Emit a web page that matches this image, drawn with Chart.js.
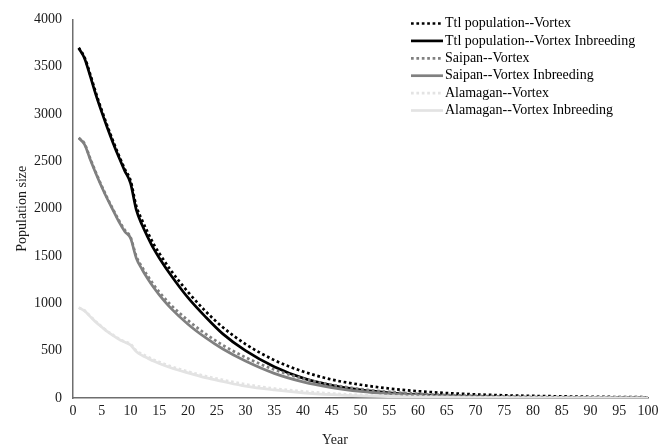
<!DOCTYPE html>
<html>
<head>
<meta charset="utf-8">
<script src="https://cdn.jsdelivr.net/npm/chart.js@4"></script>
<style>
  html, body { margin: 0; padding: 0; background: #fff; }
</style>
</head>
<body>
<canvas id="chart" width="670" height="447"></canvas>
<script>
// ===== Data =====

const years = [1, 2, 3, 4, 5, 6, 7, 8, 9, 10, 11, 12, 13, 14, 15, 17, 20, 23, 26, 30,
  35, 40, 45, 50, 55, 60, 65, 70, 75, 80, 85, 90, 95, 100];

const ttlVortex = [3700, 3600, 3420, 3220, 3040, 2870, 2710, 2560, 2420, 2300, 2030, 1880, 1750, 1630, 1530, 1350, 1120, 920, 750, 570,
  400, 280, 195, 140, 100, 72, 52, 38, 28, 22, 17, 13, 10, 8];
const ttlInbreeding = [3695, 3590, 3400, 3200, 3020, 2850, 2690, 2540, 2400, 2270, 1990, 1830, 1700, 1580, 1480, 1300, 1060, 860, 680, 500,
  330, 210, 135, 85, 55, 35, 22, 14, 9, 6, 4, 3, 2, 1];
const saipanVortex = [2750, 2690, 2530, 2380, 2240, 2110, 1990, 1875, 1775, 1700, 1500, 1385, 1290, 1200, 1120, 985, 820, 680, 560, 430,
  300, 205, 140, 95, 65, 45, 32, 23, 17, 12, 9, 7, 5, 4];
const saipanInbreeding = [2745, 2680, 2520, 2370, 2230, 2100, 1980, 1860, 1760, 1690, 1480, 1360, 1260, 1170, 1090, 950, 780, 640, 520, 390,
  260, 170, 110, 70, 45, 28, 18, 11, 7, 5, 3, 2, 1, 1];
const alamaganVortex = [955, 925, 865, 805, 755, 705, 665, 625, 595, 570, 500, 465, 435, 405, 380, 335, 280, 232, 192, 145,
  100, 70, 48, 33, 23, 16, 11, 8, 6, 4, 3, 2, 2, 1];
const alamaganInbreeding = [955, 920, 860, 800, 750, 700, 660, 620, 590, 560, 490, 450, 420, 390, 365, 320, 265, 215, 175, 125,
  85, 55, 35, 22, 14, 9, 6, 4, 3, 2, 1, 1, 0, 0];

const seriesNames = [
  "Ttl population--Vortex",
  "Ttl population--Vortex Inbreeding",
  "Saipan--Vortex",
  "Saipan--Vortex Inbreeding",
  "Alamagan--Vortex",
  "Alamagan--Vortex Inbreeding"
];

const xTickValues = [0, 5, 10, 15, 20, 25, 30, 35, 40, 45, 50, 55, 60, 65, 70, 75, 80, 85, 90, 95, 100];
const yTickValues = [0, 500, 1000, 1500, 2000, 2500, 3000, 3500, 4000];

// ===== Helpers =====

const FONT = '"Liberation Serif", "Times New Roman", serif';

function toPoints(values) {
  return years.map((yr, i) => ({ x: yr, y: values[i] }));
}

function makeLine(label, values, color, dotted, idx) {
  return {
    label: label,
    data: toPoints(values),
    borderColor: color,
    backgroundColor: color,
    borderWidth: 2.7,
    borderDash: dotted ? [2.7, 2.7] : [],
    pointRadius: 0,
    fill: false,
    cubicInterpolationMode: 'monotone',
    order: 10 - idx // later series drawn on top, like the original
  };
}

const allSeries = [ttlVortex, ttlInbreeding, saipanVortex, saipanInbreeding, alamaganVortex, alamaganInbreeding];
const colors = ['#000000', '#000000', '#808080', '#808080', '#e3e3e3', '#e3e3e3'];

const datasets = allSeries.map((vals, i) => makeLine(seriesNames[i], vals, colors[i], i % 2 === 0, i));

// ===== Legend + x title drawn on canvas =====

const sideLegend = {
  id: 'sideLegend',
  afterDraw(chart) {
    const ctx = chart.ctx;
    ctx.save();
    ctx.font = '14px ' + FONT;
    ctx.textBaseline = 'middle';
    chart.data.datasets.forEach((ds, i) => {
      const y = 23.5 + i * 17.4;
      ctx.beginPath();
      ctx.strokeStyle = ds.borderColor;
      ctx.lineWidth = ds.borderWidth;
      ctx.setLineDash(ds.borderDash);
      ctx.moveTo(411, y);
      ctx.lineTo(443, y);
      ctx.stroke();
      ctx.setLineDash([]);
      ctx.fillStyle = '#000';
      ctx.textAlign = 'left';
      ctx.fillText(ds.label, 445, y);
    });
    ctx.fillStyle = '#1a1a1a';
    ctx.textAlign = 'center';
    ctx.fillText('Year', 335, 440);
    ctx.restore();
  }
};

// ===== Chart =====

new Chart(document.getElementById('chart'), {
  type: 'line',
  data: { datasets: datasets },
  options: {
    responsive: false,
    animation: false,
    layout: { padding: { top: 18, right: 22, left: 0, bottom: 0 } },
    plugins: {
      legend: { display: false },
      tooltip: { enabled: false }
    },
    scales: {
      x: {
        type: 'linear',
        min: 0,
        max: 100,
        afterBuildTicks: s => { s.ticks = xTickValues.map(v => ({ value: v })); },
        afterFit: s => { s.height = 49; },
        grid: { display: false, drawTicks: false },
        border: { display: true, color: '#6e6e6e', width: 1.5 },
        ticks: { color: '#1a1a1a', font: { family: FONT, size: 14 }, padding: 5, maxRotation: 0, autoSkip: false,
          callback: v => String(v) }
      },
      y: {
        min: 0,
        max: 4000,
        afterBuildTicks: s => { s.ticks = yTickValues.map(v => ({ value: v })); },
        afterFit: s => { s.width = 73; },
        grid: { display: false, drawTicks: false },
        border: { display: true, color: '#6e6e6e', width: 1.5 },
        ticks: { color: '#1a1a1a', font: { family: FONT, size: 14 }, padding: 11,
          callback: v => String(v) },
        title: {
          display: true,
          text: 'Population size',
          color: '#1a1a1a',
          font: { family: FONT, size: 14, weight: 'normal' },
          padding: { top: 14, bottom: 0 }
        }
      }
    }
  },
  plugins: [sideLegend]
});
</script>
</body>
</html>
